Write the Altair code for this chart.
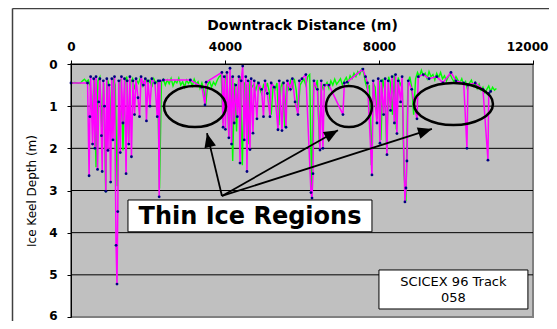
import math
import altair as alt
import pandas as pd

# ---------------- data ----------------
x_ticks = [0, 4000, 8000, 12000]
y_ticks = [0, 1, 2, 3, 4, 5, 6]

green_step = 50
green_depth = [
    0.45, 0.45, 0.44, 0.45, 0.46, 0.45, 0.40, 0.36, 0.42, 0.38,
    0.52, 1.30, 0.33, 2.45, 0.40, 0.31, 1.50, 0.45, 3.05, 0.38,
    0.55, 1.65, 0.34, 0.50, 2.90, 0.42, 0.36, 2.05, 0.40, 0.30,
    1.85, 0.44, 0.35, 0.60, 0.38, 0.46, 0.33, 0.52, 0.40, 0.36,
    0.48, 0.39, 0.55, 0.35, 0.45, 0.40, 2.95, 0.42, 0.36, 0.50,
    0.38, 0.47, 0.34, 0.52, 0.40, 0.45, 0.33, 0.50, 0.42, 0.55,
    0.38, 0.46, 0.40, 0.52, 0.36, 0.48, 0.42, 0.58, 0.45, 0.62,
    0.95, 0.50, 0.40, 0.55, 0.43, 0.50, 0.38, 0.30, 0.26, 1.40,
    0.35, 0.22, 1.75, 0.30, 2.30, 0.45, 1.60, 0.40, 0.30, 2.40,
    0.45, 0.50, 1.90, 0.40, 0.55, 0.48, 0.62, 0.45, 0.58, 0.70,
    0.50, 0.62, 0.45, 0.66, 1.20, 0.52, 0.60, 0.45, 1.45, 0.55,
    0.42, 1.50, 0.48, 0.60, 0.40, 0.55, 0.35, 0.62, 1.15, 0.50,
    0.42, 0.36, 0.50, 0.30, 0.25, 3.00, 0.40, 0.55, 0.38, 1.90,
    0.45, 0.60, 0.52, 0.44, 0.58, 0.40, 0.50, 0.36, 0.48, 0.42,
    0.35, 0.50, 0.40, 0.32, 0.45, 0.28, 0.35, 0.22, 0.30, 0.18,
    0.25, 0.12, 0.20, 0.45, 0.60, 0.50, 2.40, 0.45, 0.55, 1.30,
    0.40, 1.80, 0.35, 0.60, 2.05, 0.30, 0.45, 1.20, 0.25, 1.55,
    0.32, 0.50, 0.40, 2.60, 3.25, 0.45, 0.30, 0.55, 1.20, 0.35,
    0.20, 0.30, 0.15, 0.28, 0.22, 0.35, 0.18, 0.30, 0.25, 0.38,
    0.22, 0.32, 0.20, 0.35, 0.28, 0.40, 0.30, 0.25, 0.35, 0.42,
    0.30, 0.38, 0.45, 0.35, 0.50, 0.42, 0.60, 0.45, 0.38, 0.52,
    0.44, 0.58, 0.48, 0.62, 0.55, 0.68, 0.60, 0.52, 0.66, 0.55,
    0.62, 0.58,
]
green_dist = [i * green_step for i in range(len(green_depth))]

magenta_dist = [
    0, 430, 470, 490, 510, 560, 590, 620, 650, 690, 720, 750, 790, 810, 840,
    870, 905, 930, 960, 990, 1030, 1060, 1090, 1130, 1170, 1195, 1215, 1240,
    1280, 1310, 1350, 1390, 1430, 1460, 1500, 1530, 1570, 1610, 1650, 1690,
    1740, 1780, 1820, 1880, 1930, 1960, 2000, 2050, 2100, 2180, 2240, 2265,
    2290, 2310, 2400, 3100, 3400, 3480, 3510, 3920, 3950, 3980, 4010, 4050,
    4100, 4130, 4170, 4200, 4240, 4280, 4320, 4360, 4390, 4420, 4460, 4500,
    4540, 4571, 4600, 4649, 4680, 4727, 4760, 4830, 4870, 4950, 5000, 5040,
    5100, 5168, 5200, 5280, 5376, 5410, 5480, 5520, 5584, 5620, 5700, 5750,
    5820, 5895, 5930, 6000, 6100, 6233, 6260, 6285, 6310, 6400, 6467, 6500,
    6544, 6580, 6700, 7064, 7100, 7170, 7583, 7650, 7700, 7817, 7850, 7947,
    7980, 8025, 8060, 8120, 8160, 8207, 8240, 8300, 8340, 8400, 8430, 8466,
    8500, 8560, 8600, 8674, 8700, 8726, 8760, 8850, 8986, 9020, 9150, 9300,
    9500, 9661, 9869, 10000, 10200, 10284, 10310, 10500, 10700, 10830, 10850,
    10900,
]
magenta_depth = [
    0.45, 0.45, 2.65, 1.25, 0.30, 1.90, 0.35, 2.00, 0.30, 2.50, 0.90, 0.35, 1.70, 2.55, 0.40,
    1.00, 3.02, 0.35, 2.05, 0.50, 2.80, 0.35, 1.80, 0.30, 4.30, 5.22, 3.50, 0.40,
    2.10, 0.30, 1.40, 0.35, 2.60, 0.40, 1.90, 0.30, 2.20, 0.40, 1.20, 0.35,
    0.80, 1.25, 0.30, 0.50, 0.35, 1.35, 0.40, 1.00, 0.35, 0.45, 1.25, 0.40,
    3.15, 0.40, 0.38, 0.38, 0.55, 0.97, 0.43, 0.20, 1.50, 0.30, 1.55, 0.20,
    1.75, 0.10, 1.90, 0.30, 1.40, 0.50, 1.25, 0.30, 2.35, 0.40, 0.05, 1.80,
    0.30, 2.55, 0.40, 2.03, 0.35, 1.64, 0.40, 1.30, 0.45, 0.60, 1.25, 0.40,
    0.70, 1.25, 0.45, 0.55, 1.56, 0.40, 1.58, 0.45, 1.50, 0.40, 0.60, 0.35,
    0.90, 1.20, 0.40, 0.35, 0.25, 3.05, 3.18, 2.60, 0.40, 0.60, 2.04, 0.40,
    2.00, 0.50, 0.50, 1.20, 0.45, 0.43, 0.12, 0.30, 0.45, 2.63, 0.40, 1.40,
    0.35, 1.88, 0.40, 1.20, 0.35, 2.15, 0.40, 1.10, 0.30, 1.40, 0.25, 1.65,
    0.40, 0.90, 0.30, 3.27, 2.94, 2.30, 0.40, 0.60, 1.30, 0.30, 0.25, 0.35,
    0.30, 0.45, 0.20, 0.40, 0.45, 2.00, 0.50, 0.45, 0.60, 2.28, 0.70,
    0.65,
]

# annotation anchors (data units)
ellipse_dist = [3220, 7220, 9934]
ellipse_depth = [1.01, 1.01, 0.95]
ellipse_w_px = [62, 46, 79]
ellipse_h_px = [41, 41, 42]

arrow_start = (3921, 3.13)
arrow_tip_dist = [3532, 6934, 9375]
arrow_tip_depth = [1.64, 1.57, 1.54]

label_box = {"x": 1480, "x2": 7817, "y": 3.225, "y2": 3.98}
label_text = "Thin Ice Regions"
label_pos = (4649, 3.62)

track_box = {"x": 7999, "x2": 11868, "y": 4.885, "y2": 5.81}
track_text = "SCICEX 96 Track\n058"
track_pos = (9934, 5.17)

# ---------------- layout ----------------
W, H = 462, 253
X_MAX, Y_MAX = 12000, 6
px_x = W / X_MAX
px_y = H / Y_MAX

xscale = alt.Scale(domain=[0, X_MAX], nice=False, zero=False)
yscale = alt.Scale(domain=[0, Y_MAX], reverse=True, nice=False, zero=False)

FONT = "DejaVu Sans"

xaxis = alt.Axis(
    orient="top", values=x_ticks, format="d", title="Downtrack Distance (m)",
    grid=False, tickSize=4, labelPadding=7, titlePadding=8,
    labelOffset={"condition": {"test": f"datum.value == {X_MAX}", "value": -6}, "value": 0},
    labelFont=FONT, labelFontWeight="bold", labelFontSize=12, labelColor="#000",
    titleFont=FONT, titleFontWeight="bold", titleFontSize=14, titleColor="#000",
    domainColor="#000", tickColor="#000", labelFlush=False, zindex=1)
yaxis = alt.Axis(
    values=y_ticks, format="d", title="Ice Keel Depth (m)", grid=False,
    tickSize=4, labelPadding=10, titlePadding=10,
    labelOffset={"condition": {"test": f"datum.value == {Y_MAX}", "value": -2}, "value": 0},
    labelFont=FONT, labelFontWeight="bold", labelFontSize=12, labelColor="#000",
    titleFont=FONT, titleFontWeight="normal", titleFontSize=12, titleColor="#000",
    domainColor="#000", tickColor="#000", labelFlush=False, zindex=1)

green_df = pd.DataFrame({"dist": green_dist, "depth": green_depth})
mag_df = pd.DataFrame({"dist": magenta_dist, "depth": magenta_depth})
grid_df = pd.DataFrame({"depth": y_ticks[1:-1]})


def ellipse_path(ratio):
    k = 0.5523
    r = ratio
    return (f"M1,0C1,{k*r:.4f} {k},{r:.4f} 0,{r:.4f}"
            f"C{-k},{r:.4f} -1,{k*r:.4f} -1,0"
            f"C-1,{-k*r:.4f} {-k},{-r:.4f} 0,{-r:.4f}"
            f"C{k},{-r:.4f} 1,{-k*r:.4f} 1,0Z")


ell_df = pd.DataFrame({
    "dist": ellipse_dist,
    "depth": ellipse_depth,
    "shape": [ellipse_path(h / w) for w, h in zip(ellipse_w_px, ellipse_h_px)],
    "size": [w * w for w in ellipse_w_px],
})

angles = []
for tx, ty in zip(arrow_tip_dist, arrow_tip_depth):
    dx = (tx - arrow_start[0]) * px_x
    dy = (ty - arrow_start[1]) * px_y
    a = math.degrees(math.atan2(dx, -dy))
    angles.append(a % 360)

arrow_df = pd.DataFrame({
    "x0": [arrow_start[0]] * len(arrow_tip_dist),
    "y0": [arrow_start[1]] * len(arrow_tip_dist),
    "dist": arrow_tip_dist,
    "depth": arrow_tip_depth,
    "angle": angles,
})
HEAD = "M0,0L0.42,1L-0.42,1Z"
HEAD_LEN = 14

box_df = pd.DataFrame([label_box])
box_text_df = pd.DataFrame({"dist": [label_pos[0]], "depth": [label_pos[1]], "t": [label_text]})
track_df = pd.DataFrame([track_box])
track_text_df = pd.DataFrame({"dist": [track_pos[0]], "depth": [track_pos[1]], "t": [track_text]})
one = pd.DataFrame({"k": [0]})


def X(field="dist"):
    return alt.X(f"{field}:Q", scale=xscale, axis=xaxis)


def Y(field="depth"):
    return alt.Y(f"{field}:Q", scale=yscale, axis=yaxis)


grid = alt.Chart(grid_df).mark_rule(color="#000000", strokeWidth=1).encode(y=Y())

green = alt.Chart(green_df).mark_line(color="#00FF00", strokeWidth=1.4).encode(
    x=X(), y=Y(), order="dist:Q")
magenta = alt.Chart(mag_df).mark_line(color="#FF00FF", strokeWidth=1.5).encode(
    x=X(), y=Y(), order="dist:Q")
dots = alt.Chart(mag_df).mark_point(filled=True, color="#000080", size=8, opacity=1).encode(
    x=X(), y=Y())

ellipses = alt.Chart(ell_df).mark_point(filled=False, color="#000", strokeWidth=2.5, opacity=1).encode(
    x=X(), y=Y(),
    shape=alt.Shape("shape:N", scale=None),
    size=alt.Size("size:Q", scale=None),
)

arrow_lines = alt.Chart(arrow_df).mark_rule(color="#000", strokeWidth=1.8).encode(
    x=X("x0"), y=Y("y0"), x2="dist:Q", y2="depth:Q")
arrow_heads = alt.Chart(arrow_df).mark_point(
    filled=True, color="#000", shape=HEAD, size=(2 * HEAD_LEN) ** 2, opacity=1).encode(
    x=X(), y=Y(), angle=alt.Angle("angle:Q", scale=None))

box = alt.Chart(box_df).mark_rect(fill="#FFFFFF", stroke="#000", strokeWidth=1).encode(
    x=X("x"), x2="x2:Q", y=Y("y"), y2="y2:Q")
box_text = alt.Chart(box_text_df).mark_text(
    font=FONT, fontWeight="bold", fontSize=24, color="#000",
    align="center", baseline="middle").encode(x=X(), y=Y(), text="t:N")

track = alt.Chart(track_df).mark_rect(fill="#FFFFFF", stroke="#000", strokeWidth=1).encode(
    x=X("x"), x2="x2:Q", y=Y("y"), y2="y2:Q")
track_txt = alt.Chart(track_text_df).mark_text(
    font=FONT, fontSize=13, color="#000", align="center",
    baseline="middle", lineBreak="\n", lineHeight=16).encode(x=X(), y=Y(), text="t:N")

border_left = alt.Chart(one).mark_rule(color="#404040", strokeWidth=1.5).encode(
    x=alt.value(-58.5), y=alt.value(-55.5), y2=alt.value(340))
border_top = alt.Chart(one).mark_rule(color="#404040", strokeWidth=1.5).encode(
    x=alt.value(-58.5), x2=alt.value(600), y=alt.value(-55.5))

chart = alt.layer(
    grid, green, magenta, dots, ellipses, arrow_lines, arrow_heads,
    box, box_text, track, track_txt, border_left, border_top,
).properties(
    width=W, height=H,
    autosize=alt.AutoSizeParams(type="none"),
    padding={"left": 63, "top": 56, "right": 16, "bottom": 4},
    background="#FFFFFF",
).configure_view(fill="#C0C0C0", stroke="#808080", strokeWidth=2)

chart.save("out.html", embed_options={"renderer": "svg", "actions": False})
